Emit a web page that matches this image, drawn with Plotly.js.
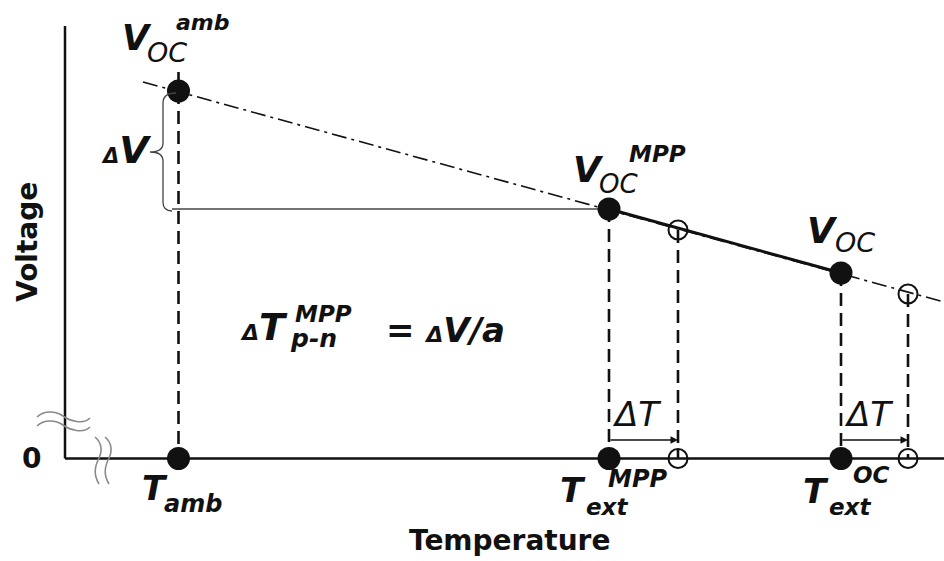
<!DOCTYPE html>
<html>
<head>
<meta charset="utf-8">
<script src="https://cdn.plot.ly/plotly-3.0.1.min.js"></script>
<style>html,body{margin:0;padding:0;background:#fff;}#chart{width:944px;height:561px;}</style>
</head>
<body>
<div id="chart"></div>
<script>
// ---- data (arbitrary temperature / voltage units, read from the schematic) ----
const tempLabels = ["T_amb", "T_ext^MPP", "T_ext^MPP + ΔT", "T_ext^OC", "T_ext^OC + ΔT"];
const filledT = [11.35, 54.4, 77.6];          // T_amb, T_ext^MPP, T_ext^OC
const filledV = [36.75, 24.95, 18.55];        // V_OC^amb, V_OC^MPP, V_OC
const openT = [61.3, 84.3];                   // shifted by ΔT
const openV = [22.85, 16.45];
const trendT = [7.8, 87.9];                   // dash-dot V_OC(T) line extent
const trendV = [37.65, 15.65];
const arrowLevel = 1.85;                      // height of the ΔT arrows
const axisTopV = 43.25;                       // top of voltage axis
const axisEndT = 87.9;                        // end of temperature axis

// ---- pixel helpers for decorations (layout only) ----
const X0 = 65, Y0 = 458.5, S = 10;
const dx = px => (px - X0) / S;
const dy = py => (Y0 - py) / S;
const FAM = "DejaVu Sans";
const INK = "#111";

function path(str) {
  return str.replace(/(-?\d+(\.\d+)?)\s+(-?\d+(\.\d+)?)/g, (m, a, b, c, d) => dx(+a).toFixed(3) + "," + dy(+c).toFixed(3));
}

const traces = [];
traces.push({x: trendT, y: trendV, mode: "lines", line: {color: INK, width: 1.6, dash: "15px,5px,3px,5px"}, hoverinfo: "skip"});
traces.push({x: [filledT[1], filledT[2]], y: [filledV[1], filledV[2]], mode: "lines", line: {color: INK, width: 3}, hoverinfo: "skip"});
const vx = [], vy = [];
filledT.forEach((t, i) => { vx.push(t, t, null); vy.push(filledV[i], 0, null); });
openT.forEach((t, i) => { vx.push(t, t, null); vy.push(openV[i], 0, null); });
traces.push({x: vx, y: vy, mode: "lines", line: {color: INK, width: 2.6, dash: "13px,7px"}, hoverinfo: "skip"});
traces.push({x: [dx(172), filledT[1]], y: [filledV[1], filledV[1]], mode: "lines", line: {color: "#444", width: 1.3}, hoverinfo: "skip"});
traces.push({x: filledT.concat(filledT), y: filledV.concat([0, 0, 0]), mode: "markers",
  marker: {color: INK, size: 23, line: {width: 0}}, hoverinfo: "skip"});
traces.push({x: openT.concat(openT), y: openV.concat([0, 0]), mode: "markers",
  marker: {symbol: "circle-open", color: INK, size: 19, line: {width: 2, color: INK}}, hoverinfo: "skip"});

const shapes = [
  {type: "line", x0: 0, x1: 0, y0: 0, y1: axisTopV, line: {color: INK, width: 2.5}},
  {type: "line", x0: 0, x1: axisEndT, y0: 0, y1: 0, line: {color: INK, width: 2.5}},
  {type: "line", x0: filledT[0], x1: filledT[0], y0: filledV[0], y1: dy(72), line: {color: INK, width: 2.6}},
  {type: "path", path: path("M 176 93 Q 163 93 163 103 L 163 143 Q 163 152 150 152 Q 163 152 163 161 L 163 202 Q 163 211 172 211"),
   line: {color: "#444", width: 1.3}},
  {type: "path", path: path("M 37 417 C 44 410 56 411 63 416 S 83 425 90 418"), line: {color: "#8a8a8a", width: 1.6}},
  {type: "path", path: path("M 37 426 C 44 419 56 420 63 425 S 83 434 90 427"), line: {color: "#8a8a8a", width: 1.6}},
  {type: "path", path: path("M 95 437 C 101 442 103 450 99 458 S 93 474 99 484"), line: {color: "#8a8a8a", width: 1.6}},
  {type: "path", path: path("M 105 437 C 111 442 113 450 109 458 S 103 474 109 484"), line: {color: "#8a8a8a", width: 1.6}}
];

function lab(text, pxLeft, pyMid, fs, extra) {
  return Object.assign({x: dx(pxLeft), y: dy(pyMid), xref: "x", yref: "y", text: text, showarrow: false,
    xanchor: "left", yanchor: "middle", borderpad: 0, font: {family: FAM, size: fs, color: INK}}, extra || {});
}
const BI = t => "<b><i>" + t + "</i></b>";
const I = t => "<i>" + t + "</i>";
const small = (t, fs) => "<span style='font-size:" + fs + "px'>" + t + "</span>";

const annotations = [
  // V_OC^amb
  lab(BI("V"), 121, 38, 35), lab(I("OC"), 146, 52.5, 27), lab(BI("amb"), 175, 22.4, 22),
  // V_OC^MPP
  lab(BI("V"), 572, 169.5, 36), lab(I("OC"), 598, 184, 26), lab(BI("MPP"), 628, 154, 23),
  // V_OC
  lab(BI("V"), 806, 230.5, 36), lab(I("OC"), 834, 242.7, 27),
  // ΔV
  lab(BI(small("Δ", 21) + "V"), 100, 150, 38),
  // formula
  lab(BI(small("Δ", 22) + "T"), 239, 327, 38), lab(BI("MPP"), 294, 314, 23), lab(BI("p-n"), 289, 338.7, 25),
  lab("<b>= <i>" + small("Δ", 22) + "V/a</i></b>", 385, 330, 34),
  // T labels
  lab(BI("T"), 141, 488, 34), lab(BI("amb"), 163, 503.7, 24),
  lab(BI("T"), 559, 490, 34), lab(BI("ext"), 585, 507, 23), lab(BI("MPP"), 607, 478.7, 24),
  lab(BI("T"), 802, 491, 34), lab(BI("ext"), 828, 507, 23), lab(BI("OC"), 852, 475, 23),
  // ΔT labels
  lab(I("ΔT"), 611, 413.5, 34), lab(I("ΔT"), 843, 413.5, 34),
  // zero and axis titles
  lab("<b>0</b>", 21, 458, 28),
  {x: dx(27), y: dy(242), xref: "x", yref: "y", text: "<b>Voltage</b>", showarrow: false, textangle: -90,
   xanchor: "center", yanchor: "middle", borderpad: 0, font: {family: FAM, size: 28, color: INK}},
  {x: dx(509), y: dy(540.3), xref: "x", yref: "y", text: "<b>Temperature</b>", showarrow: false,
   xanchor: "center", yanchor: "middle", borderpad: 0, font: {family: FAM, size: 28, color: INK}},
  // ΔT arrows
  {x: openT[0], y: arrowLevel, ax: filledT[1], ay: arrowLevel, xref: "x", yref: "y", axref: "x", ayref: "y",
   text: "", showarrow: true, arrowhead: 2, arrowsize: 1, arrowwidth: 1.5, arrowcolor: INK, standoff: 0, startstandoff: 0},
  {x: openT[1], y: arrowLevel, ax: filledT[2], ay: arrowLevel, xref: "x", yref: "y", axref: "x", ayref: "y",
   text: "", showarrow: true, arrowhead: 2, arrowsize: 1, arrowwidth: 1.5, arrowcolor: INK, standoff: 0, startstandoff: 0}
];

const layout = {
  width: 944, height: 561, margin: {l: 0, r: 0, t: 0, b: 0},
  paper_bgcolor: "#fff", plot_bgcolor: "#fff", showlegend: false,
  xaxis: {range: [dx(0), dx(944)], visible: false, fixedrange: true},
  yaxis: {range: [dy(561), dy(0)], visible: false, fixedrange: true},
  shapes: shapes, annotations: annotations
};
Plotly.newPlot("chart", traces, layout, {staticPlot: true, displayModeBar: false});
</script>
</body>
</html>
